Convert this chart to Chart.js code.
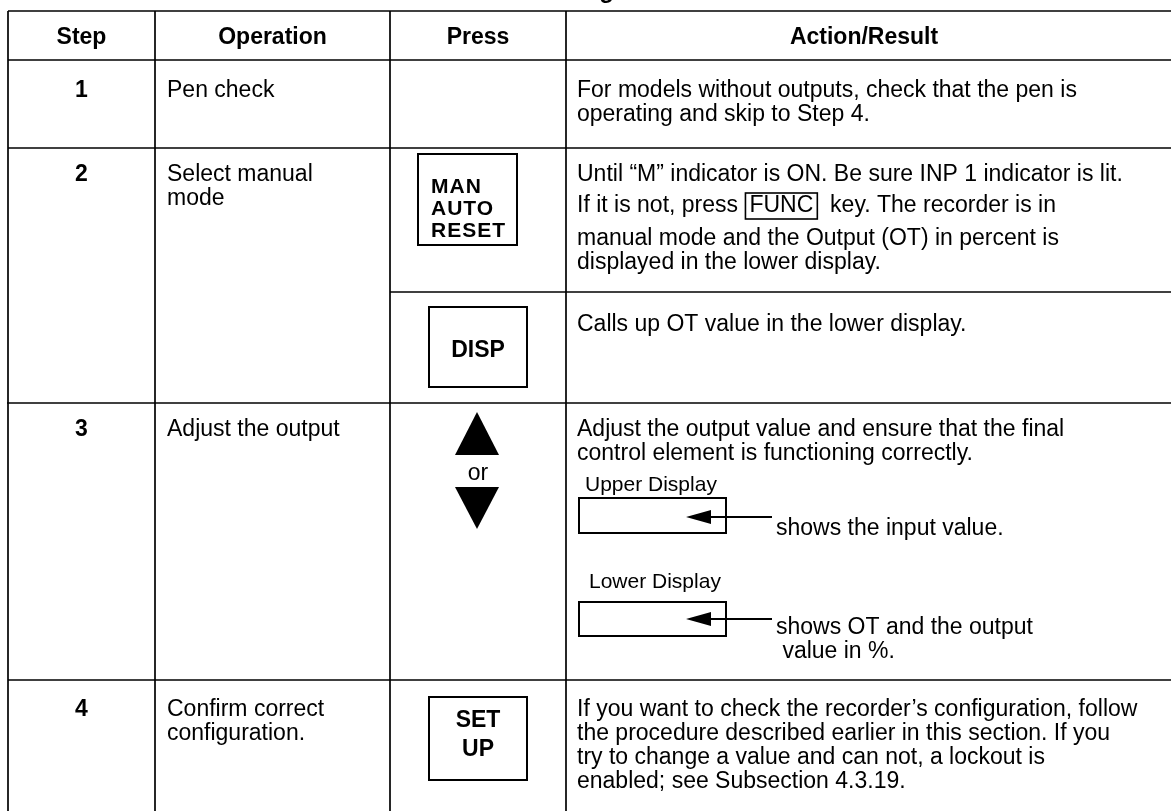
<!DOCTYPE html>
<html><head><meta charset="utf-8">
<script src="https://cdn.jsdelivr.net/npm/chart.js@4"></script>
<style>html,body{margin:0;padding:0;background:#fff;overflow:hidden}canvas{display:block}</style>
</head><body>
<canvas id="c" width="1171" height="811"></canvas>
<script>
// ---- content ----
const titleText = 'Table 4-13 Recorder Checking';
const headers = ['Step', 'Operation', 'Press', 'Action/Result'];
const steps = ['1', '2', '3', '4'];
const operations = [['Pen check'], ['Select manual', 'mode'], ['Adjust the output'], ['Confirm correct', 'configuration.']];
const keyManAuto = ['MAN', 'AUTO', 'RESET'];
const keyDisp = ['DISP'];
const keyArrowsLabel = 'or';
const keySetup = ['SET', 'UP'];
const action1 = ['For models without outputs, check that the pen is', 'operating and skip to Step 4.'];
const action2a = ['Until \u201CM\u201D indicator is ON. Be sure INP 1 indicator is lit.', ['If it is not, press ', 'FUNC', '  key. The recorder is in'], 'manual mode and the Output (OT) in percent is', 'displayed in the lower display.'];
const action2b = ['Calls up OT value in the lower display.'];
const action3 = ['Adjust the output value and ensure that the final', 'control element is functioning correctly.'];
const displayLabels = ['Upper Display', 'Lower Display'];
const displayNotes = [['shows the input value.'], ['shows OT and the output', ' value in %.']];
const action4 = ['If you want to check the recorder\u2019s configuration, follow', 'the procedure described earlier in this section. If you', 'try to change a value and can not, a lockout is', 'enabled; see Subsection 4.3.19.'];

// ---- layout (page units) ----
const colX = [8, 155, 390, 566, 1180];
const rowY = [11, 60, 148, 403, 680, 830];
const subRowY = 292;
const FONT = '"Liberation Sans", Arial, sans-serif';
const bodySize = 23, lineH = 24;

const tablePlugin = {
  id: 'table',
  afterDraw(chart) {
    const ctx = chart.ctx, sx = chart.scales.x, sy = chart.scales.y;
    const X = v => sx.getPixelForValue(v), Y = v => sy.getPixelForValue(v);
    ctx.save();
    ctx.fillStyle = '#000'; ctx.strokeStyle = '#000';
    const line = (x1, y1, x2, y2, w) => { ctx.lineWidth = w || 1.7; ctx.beginPath(); ctx.moveTo(X(x1), Y(y1)); ctx.lineTo(X(x2), Y(y2)); ctx.stroke(); };
    const rect = (x1, y1, x2, y2, w) => { ctx.lineWidth = w || 2; ctx.strokeRect(X(x1), Y(y1), X(x2) - X(x1), Y(y2) - Y(y1)); };
    const text = (s, x, y, opt) => {
      opt = opt || {};
      ctx.font = (opt.bold ? 'bold ' : '') + (opt.size || bodySize) + 'px ' + FONT;
      ctx.letterSpacing = opt.ls || '0px';
      ctx.textAlign = opt.align || 'left'; ctx.textBaseline = 'alphabetic';
      ctx.fillText(s, X(x), Y(y));
      const w = ctx.measureText(s).width;
      ctx.letterSpacing = '0px';
      return w;
    };
    text(titleText, 614, -2, {bold: true, size: 24, align: 'right'});
    // grid
    line(colX[0], rowY[0], colX[4], rowY[0]);
    line(colX[0], rowY[1], colX[4], rowY[1]);
    line(colX[0], rowY[2], colX[4], rowY[2]);
    line(colX[2], subRowY, colX[4], subRowY);
    line(colX[0] - 1, rowY[3], colX[4], rowY[3]);
    line(colX[0], rowY[4], colX[4], rowY[4]);
    for (let i = 0; i < 4; i++) line(colX[i], rowY[0], colX[i], 811);
    // headers
    headers.forEach((h, i) => text(h, i < 3 ? (colX[i] + colX[i + 1]) / 2 : 864, 44, {bold: true, align: 'center'}));
    // steps / operations
    const firstBase = [97, 181, 436, 716];
    steps.forEach((s, i) => {
      text(s, (colX[0] + colX[1]) / 2, firstBase[i], {bold: true, align: 'center'});
      operations[i].forEach((o, j) => text(o, colX[1] + 12, firstBase[i] + j * lineH));
    });
    const ax = colX[3] + 11;
    action1.forEach((s, j) => text(s, ax, 97 + j * lineH));
    // action 2a
    text(action2a[0], ax, 181);
    const w = text(action2a[1][0], ax, 212);
    const fw = text(action2a[1][1], ax + w + 5, 212);
    rect(ax + w + 1, 193, ax + w + 9 + fw, 219, 1.6);
    text(action2a[1][2], ax + w + 9 + fw, 212);
    text(action2a[2], ax, 245);
    text(action2a[3], ax, 269);
    // action 2b
    text(action2b[0], ax, 331);
    // action 3
    action3.forEach((s, j) => text(s, ax, 436 + j * lineH));
    text(displayLabels[0], 585, 491, {size: 21});
    rect(579, 498, 726, 533);
    text(displayLabels[1], 589, 588, {size: 21});
    rect(579, 602, 726, 636);
    [[517, 535, displayNotes[0]], [619, 634, displayNotes[1]]].forEach(([ay, ty, notes]) => {
      line(706, ay, 772, ay, 2);
      ctx.beginPath(); ctx.moveTo(X(686), Y(ay)); ctx.lineTo(X(711), Y(ay - 7)); ctx.lineTo(X(711), Y(ay + 7)); ctx.closePath(); ctx.fill();
      notes.forEach((n, j) => text(n, 776, ty + j * lineH));
    });
    // action 4
    action4.forEach((s, j) => text(s, ax, 716 + j * lineH));
    // press keys
    rect(418, 154, 517, 245);
    keyManAuto.forEach((k, j) => text(k, 431, 193 + j * 22, {bold: true, size: 21, ls: '1px'}));
    rect(429, 307, 527, 387);
    text(keyDisp[0], 478, 357, {bold: true, align: 'center'});
    ctx.beginPath(); ctx.moveTo(X(477), Y(412)); ctx.lineTo(X(499), Y(455)); ctx.lineTo(X(455), Y(455)); ctx.closePath(); ctx.fill();
    text(keyArrowsLabel, 478, 480, {align: 'center'});
    ctx.beginPath(); ctx.moveTo(X(455), Y(487)); ctx.lineTo(X(499), Y(487)); ctx.lineTo(X(477), Y(529)); ctx.closePath(); ctx.fill();
    rect(429, 697, 527, 780);
    keySetup.forEach((k, j) => text(k, 478, 727 + j * 29, {bold: true, align: 'center'}));
    ctx.restore();
  }
};

new Chart(document.getElementById('c'), {
  type: 'scatter',
  data: {datasets: [{data: [], pointRadius: 0}]},
  options: {
    responsive: false, animation: false,
    layout: {padding: 0},
    plugins: {legend: {display: false}, tooltip: {enabled: false}},
    scales: {
      x: {type: 'linear', min: 0, max: 1171, display: false},
      y: {type: 'linear', min: 0, max: 811, reverse: true, display: false}
    }
  },
  plugins: [tablePlugin]
});
</script>
</body></html>
